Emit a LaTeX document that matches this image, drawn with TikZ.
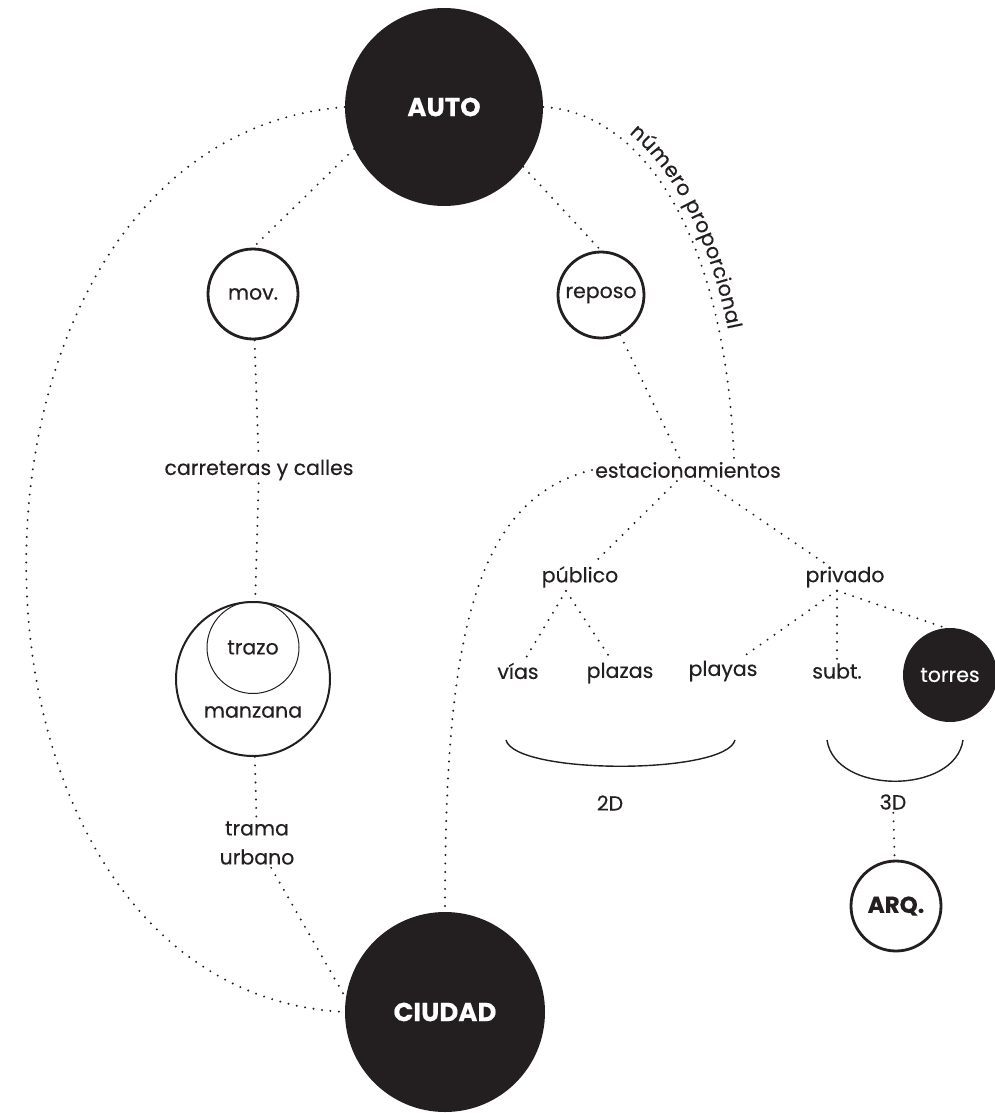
\documentclass[tikz,border=0pt]{standalone}
\usepackage{fontspec}
\setmainfont{Poppins}[FakeBold=0.35]
\usetikzlibrary{positioning,decorations.text}
\definecolor{ink}{HTML}{231F20}

\begin{document}
\begin{tikzpicture}[x=1pt, y=-1pt, font=\fontsize{20.5}{29}\selectfont,
  hub/.style={circle, fill=ink, text=white, inner sep=0pt, font=\fontsize{26}{30}\selectfont\bfseries},
  ring/.style={circle, draw=ink, line width=2.8pt, inner sep=0pt, minimum size=88pt, text=ink},
  word/.style={align=center, inner sep=3pt, text=ink},
  dots/.style={draw=ink, line width=2.2pt, line cap=round, dash pattern=on 0pt off 8.5pt},
  brace/.style={draw=ink, line width=1.4pt}]
\useasboundingbox (0,0) rectangle (995,1113);
\node[hub, minimum size=198pt] (auto) at (444,107) {AUTO};
\node[hub, minimum size=200pt] (ciu) at (445,1012) {CIUDAD};
\node[ring, minimum size=90pt] (mov) at (253,294) {mov.};
\node[ring, minimum size=86pt] (rep) at (601,295) {reposo};
\node[word] (carr) at (259,470) {carreteras y calles};
\node[ring, line width=2pt, minimum size=154pt] (manz) at (253,679) {};
\node[ring, line width=1pt, minimum size=92pt, below=0pt of manz.north] (trazo) {trazo};
\node[word, below=9pt of trazo] (manzlbl) {manzana};
\node[word] (trama) at (257,843) {trama\\urbano};
\node[word] (est) at (688,470) {estacionamientos};
\node[word] (pub) at (580,577) {público};
\node[word] (priv) at (845,577) {privado};
\node[word] (vias) at (518,671) {vías};
\node[word] (plaz) at (620,673) {plazas};
\node[word] (play) at (723,671) {playas};
\node[word] (subt) at (837,671) {subt.};
\node[hub, minimum size=94pt, font=\fontsize{20.5}{24}\selectfont] (torr) at (950,675) {torres};
\node[word] (d2) at (610,803) {2D};
\node[word] (d3) at (893,802) {3D};
\node[ring, minimum size=90pt, font=\fontsize{23}{26}\selectfont\bfseries] (arq) at (896,906) {ARQ.};
% auto
\draw[dots] (auto.west) .. controls (-80,140) and (-80,990) .. (ciu.west);
\draw[dots] (auto.205) -- (mov.north);
\draw[dots] (auto.-37) -- (rep.north);
\draw[dots] (auto.east) .. controls (640,112) and (725,230) .. ([xshift=46pt]est.north);
\path[decorate, decoration={text along path, text align={left indent=88pt}, raise=9pt,
  text={|\fontsize{20.5}{24}\selectfont\color{ink}|número proporcional}}]
  (auto.east) .. controls (640,112) and (725,230) .. ([xshift=46pt]est.north);
% left branch
\draw[dots] (mov) -- (carr);
\draw[dots] (carr) -- (manz);
\draw[dots] (manz) -- (trama);
\draw[dots] (trama) -- (ciu.172);
% right branch
\draw[dots] (rep) -- ([xshift=-8pt]est.north);
\draw[dots] (est.west) .. controls (470,500) and (445,650) .. (ciu.north);
\draw[dots] (est) -- (pub);
\draw[dots] (est) -- (priv);
\coordinate (pubfork) at ([xshift=-14pt]pub.south);
\draw[dots] (pubfork) -- (vias);
\draw[dots] (pubfork) -- (plaz);
\coordinate (privfork) at ([xshift=-8pt]priv.south);
\draw[dots] (privfork) -- (play);
\draw[dots] (privfork) -- (subt);
\draw[dots] (privfork) -- ([xshift=-5pt]torr.north);
\draw[dots] (d3) -- (arq);
% braces
\coordinate (b2a) at (506,740);
\coordinate (b2b) at (735,740);
\coordinate (b3a) at (827,740);
\coordinate (b3b) at (963,740);
\draw[brace] (b2a) .. controls (515,775) and (726,775) .. (b2b);
\draw[brace] (b3a) .. controls (835,795) and (955,795) .. (b3b);
\end{tikzpicture}
\end{document}
